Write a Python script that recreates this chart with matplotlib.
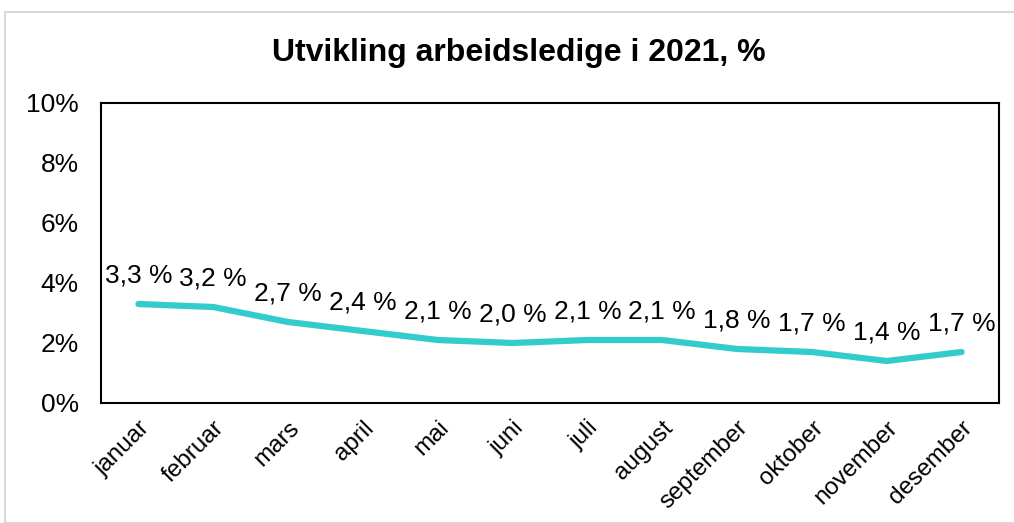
import matplotlib
matplotlib.use("Agg")
import matplotlib.pyplot as plt
from matplotlib.patches import Rectangle
from matplotlib.ticker import FuncFormatter

plt.rcParams['font.family'] = ['Liberation Sans', 'DejaVu Sans']

months = ["januar", "februar", "mars", "april", "mai", "juni", "juli",
          "august", "september", "oktober", "november", "desember"]
rates = [3.3, 3.2, 2.7, 2.4, 2.1, 2.0, 2.1, 2.1, 1.8, 1.7, 1.4, 1.7]
yticks = [0, 2, 4, 6, 8, 10]

fig = plt.figure(figsize=(10.14, 5.23), dpi=100)
# light grey outer frame
fig.patches.append(Rectangle((5 / 1014, 0), 1.1, 1 - 12 / 523, transform=fig.transFigure,
                             fill=False, edgecolor="#D9D9D9", linewidth=1.5))

ax = fig.add_axes([101 / 1014, 120 / 523, 898 / 1014, 300 / 523])
x = list(range(len(months)))
ax.plot(x, rates, color="#33CCCC", linewidth=4.5, solid_capstyle="round",
        solid_joinstyle="round")

for xi, v in zip(x, rates):
    ax.annotate(f"{v:.1f} %".replace(".", ","), (xi, v), xytext=(0, 12),
                textcoords="offset points", ha="center", va="bottom", fontsize=19)

ax.set_xlim(-0.5, len(months) - 0.5)
ax.set_ylim(0, 10)
ax.set_yticks(yticks)
ax.yaxis.set_major_formatter(FuncFormatter(lambda v, p: f"{v:.0f}%"))
ax.set_xticks(x)
ax.set_xticklabels(months, rotation=45, ha="right", rotation_mode="anchor")
ax.tick_params(axis="both", length=0, labelsize=19)
ax.tick_params(axis="x", pad=10, labelsize=17.5)
ax.tick_params(axis="y", pad=16)
for s in ax.spines.values():
    s.set_linewidth(1.5)
    s.set_color("black")

fig.text(0.512, 1 - 53 / 523, "Utvikling arbeidsledige i 2021, %", ha="center", va="center",
         fontsize=23, fontweight="bold")

fig.savefig("out.png", dpi=100)
